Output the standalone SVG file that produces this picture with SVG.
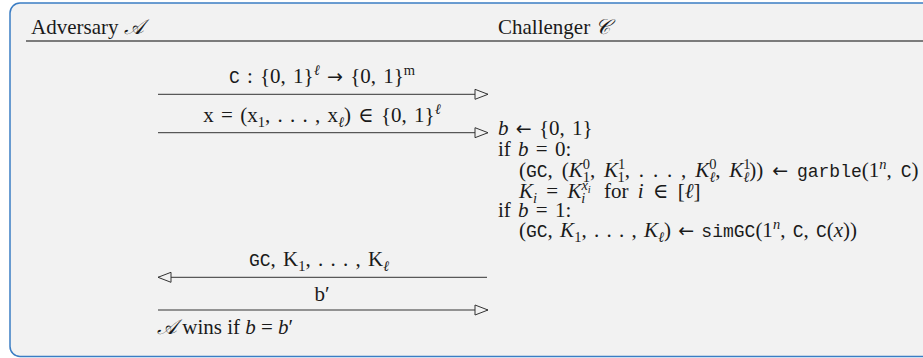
<svg xmlns="http://www.w3.org/2000/svg" width="923" height="358" viewBox="0 0 923 358">
<style>
.t{font-family:"Liberation Serif","DejaVu Serif",serif;font-size:21px;fill:#1a1a1a}
.w{word-spacing:2px}
.w2{word-spacing:3.6px}
.w3{word-spacing:4px}
.i{font-style:italic}
.m{font-family:"Liberation Mono","DejaVu Sans Mono",monospace;font-size:18px}
.ar{font-family:"DejaVu Sans",sans-serif;font-size:19px}
.s{font-size:14.5px}
.ss{font-size:10.5px}
.c{text-anchor:middle}
.conn{stroke:#333;stroke-width:1;fill:none}
</style>
<defs>
<marker id="open" markerUnits="userSpaceOnUse" markerWidth="15" markerHeight="12" refX="13" refY="5" orient="auto" viewBox="-1 -1 15 12">
<path d="M0,0 L13,5 L0,10 Z" fill="#f2f2f2" stroke="#333" stroke-width="1"/>
</marker>
</defs>
<rect width="923" height="358" fill="#ffffff"/>
<g id="frame">
<rect x="10" y="3" width="940" height="353.5" rx="10" ry="10" fill="#f2f2f2" stroke="#3b7dc4" stroke-width="1.5"/>
<line x1="26" y1="41" x2="923" y2="41" stroke="#555" stroke-width="1.6"/>
</g>
<g id="adversary"><text class="t" x="31" y="34.3">Adversary <tspan class="i">𝒜</tspan></text></g>
<g id="challenger"><text class="t" x="498" y="34.3">Challenger <tspan class="i">𝒞</tspan></text></g>
<g id="connectors">
<line class="conn" x1="158" y1="94.3" x2="488" y2="94.3" marker-end="url(#open)"/>
<line class="conn" x1="158" y1="132.7" x2="488" y2="132.7" marker-end="url(#open)"/>
<line class="conn" x1="487" y1="277.3" x2="158" y2="277.3" marker-end="url(#open)"/>
<line class="conn" x1="158" y1="310" x2="488" y2="310" marker-end="url(#open)"/>
</g>
<g id="labels">
<text class="t c w" x="322" y="83"><tspan class="m">C</tspan> : {0, 1}<tspan class="s i" baseline-shift="8">ℓ</tspan> <tspan class="ar">→</tspan> {0, 1}<tspan class="s" baseline-shift="8">m</tspan></text>
<text class="t c w" x="322" y="121.7">x = (x<tspan class="s" baseline-shift="-5">1</tspan>, . . . , x<tspan class="s i" baseline-shift="-5">ℓ</tspan>) ∈ {0, 1}<tspan class="s i" baseline-shift="8">ℓ</tspan></text>
<text class="t c w" x="319" y="266"><tspan class="m">GC</tspan>, K<tspan class="s" baseline-shift="-5">1</tspan>, . . . , K<tspan class="s i" baseline-shift="-5">ℓ</tspan></text>
<text class="t c" x="322" y="300.7">b′</text>
<text class="t" x="157" y="334"><tspan class="i">𝒜</tspan> wins if <tspan class="i">b</tspan> = <tspan class="i">b</tspan>′</text>
</g>
<g id="challenger-code">
<text class="t w" x="498" y="135"><tspan class="i">b</tspan> <tspan class="ar">←</tspan> {0, 1}</text>
<text class="t w" x="498" y="156">if <tspan class="i">b</tspan> = 0:</text>
<text class="t w2" x="519" y="177">(<tspan class="m">GC</tspan>, (<tspan class="i">K</tspan><tspan class="s" baseline-shift="8">0</tspan><tspan class="s" dx="-7.3" baseline-shift="-5">1</tspan>, <tspan class="i">K</tspan><tspan class="s" baseline-shift="8">1</tspan><tspan class="s" dx="-7.3" baseline-shift="-5">1</tspan>, . . . , <tspan class="i">K</tspan><tspan class="s" baseline-shift="8">0</tspan><tspan class="s i" dx="-7.3" baseline-shift="-5">ℓ</tspan>, <tspan class="i">K</tspan><tspan class="s" baseline-shift="8">1</tspan><tspan class="s i" dx="-7.3" baseline-shift="-5">ℓ</tspan>)) <tspan class="ar">←</tspan> <tspan class="m">garble</tspan>(1<tspan class="s i" baseline-shift="8">n</tspan>, <tspan class="m">C</tspan>)</text>
<text class="t w3" x="519" y="197.5"><tspan class="i">K</tspan><tspan class="s i" baseline-shift="-5">i</tspan> = <tspan class="i">K</tspan><tspan class="s i" baseline-shift="8">x</tspan><tspan class="ss i" baseline-shift="5">i</tspan><tspan class="s i" dx="-9.4" baseline-shift="-5">i</tspan><tspan dx="9.4"> for </tspan><tspan class="i">i</tspan> ∈ [<tspan class="i">ℓ</tspan>]</text>
<text class="t w" x="498" y="216.5">if <tspan class="i">b</tspan> = 1:</text>
<text class="t w" x="519" y="237">(<tspan class="m">GC</tspan>, <tspan class="i">K</tspan><tspan class="s" baseline-shift="-5">1</tspan>, . . . , <tspan class="i">K</tspan><tspan class="s i" baseline-shift="-5">ℓ</tspan>) <tspan class="ar">←</tspan> <tspan class="m">simGC</tspan>(1<tspan class="s i" baseline-shift="8">n</tspan>, <tspan class="m">C</tspan>, <tspan class="m">C</tspan>(<tspan class="i">x</tspan>))</text>
</g>
</svg>
